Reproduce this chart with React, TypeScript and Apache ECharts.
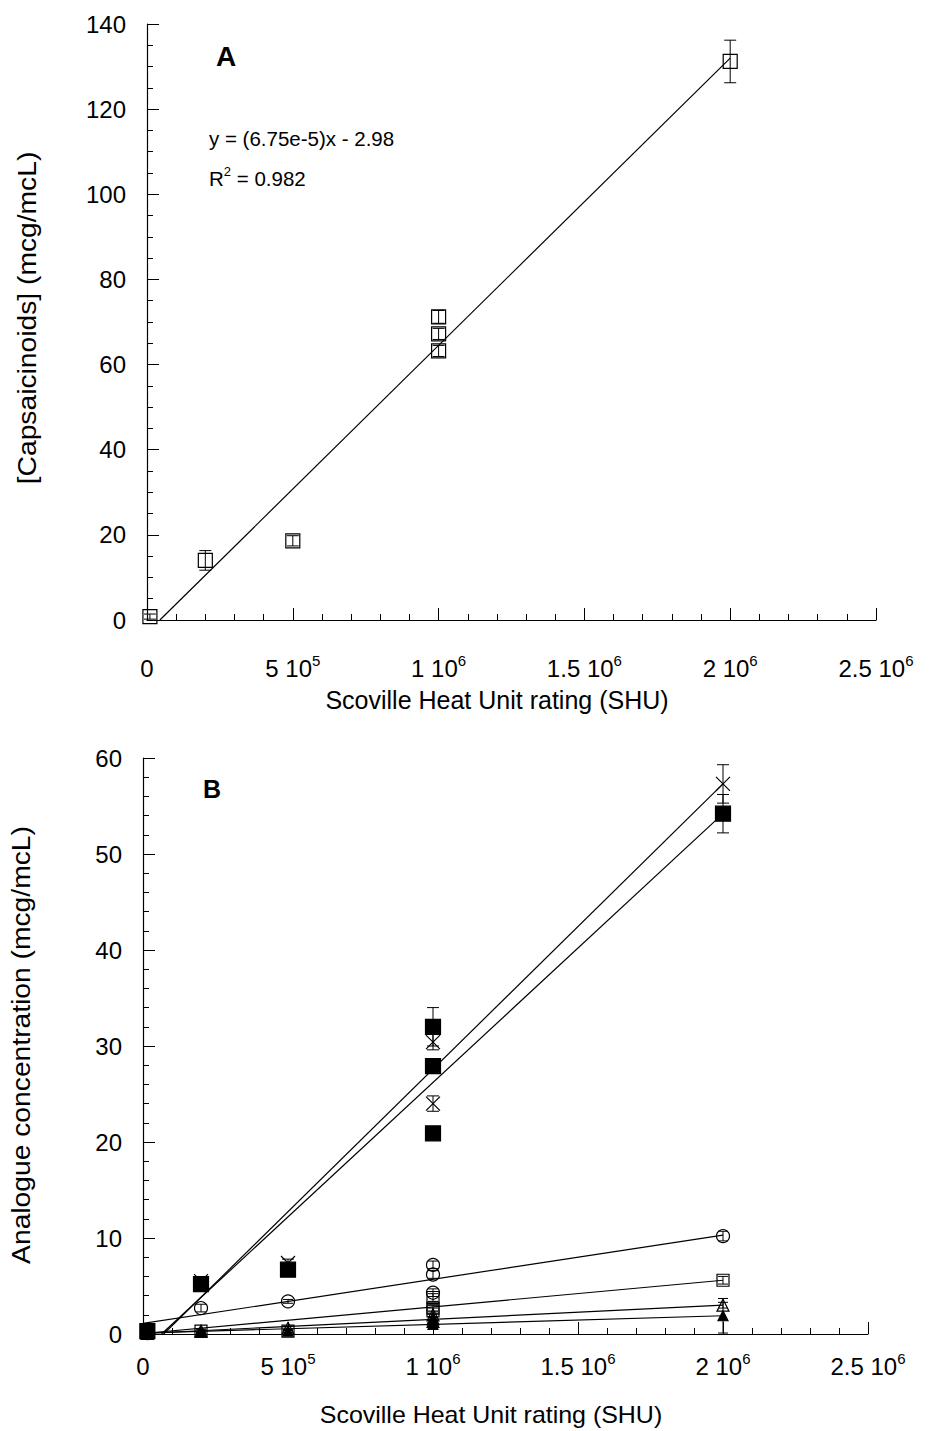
import React, { useEffect, useRef } from "react";
import * as echarts from "echarts";

const FONT = "Liberation Sans, Arial, Helvetica, sans-serif";

// ---------- Panel A ----------
const aShu = [10000, 200000, 500000, 1000000, 1000000, 1000000, 2000000];
const aConc = [0.8, 14.0, 18.6, 63.2, 67.2, 71.2, 131.2];
const aErr = [0.6, 2.3, 1.2, 1.3, 1.3, 1.5, 5.0];
const aFitX = [44148, 2000000];
const aFitY = [0, 132.0];

// ---------- Panel B ----------
const capX = [15000, 200000, 500000, 1000000, 1000000, 1000000, 2000000];
const capY = [0.3, 5.2, 6.7, 32.0, 27.9, 20.9, 54.2];
const capE = [0.3, 0.5, 0.5, 2.0, 0.6, 0.4, 2.0];

const dihX = [15000, 200000, 500000, 1000000, 1000000, 1000000, 2000000];
const dihY = [0.2, 5.5, 7.4, 30.4, 28.0, 24.0, 57.3];
const dihE = [0.2, 0.4, 0.4, 0.8, 0.6, 0.8, 2.0];

const norX = [15000, 200000, 500000, 1000000, 1000000, 1000000, 2000000];
const norY = [0.1, 2.7, 3.4, 7.2, 6.2, 4.3, 10.2];
const norE = [0.1, 0.4, 0.2, 0.4, 0.4, 0.4, 0.5];

const homX = [15000, 200000, 500000, 1000000, 1000000, 1000000, 2000000];
const homY = [0.05, 0.3, 0.3, 3.8, 2.7, 2.4, 5.6];
const homE = [0.05, 0.2, 0.2, 0.4, 0.3, 0.3, 0.4];

const hdhX = [15000, 200000, 500000, 1000000, 1000000, 1000000, 2000000];
const hdhY = [0.05, 0.3, 0.6, 2.0, 1.6, 1.3, 3.0];
const hdhE = [0.05, 0.2, 0.2, 0.3, 0.2, 0.2, 0.3];

const nonX = [15000, 200000, 500000, 1000000, 1000000, 1000000, 2000000];
const nonY = [0.05, 0.2, 0.3, 1.5, 1.2, 1.0, 1.9];
const nonE = [0.05, 0.1, 0.1, 0.2, 0.2, 0.2, 1.8];

const fitCapX = [64000, 2000000];
const fitCapY = [0, 54.2];
const fitDihX = [71000, 2000000];
const fitDihY = [0, 57.3];
const fitNorX = [0, 2000000];
const fitNorY = [1.1, 10.3];
const fitHomX = [0, 2000000];
const fitHomY = [0.05, 5.6];
const fitHdhX = [0, 2000000];
const fitHdhY = [0.05, 3.0];
const fitNonX = [0, 2000000];
const fitNonY = [0.1, 1.9];

const xTickValues = [0, 500000, 1000000, 1500000, 2000000, 2500000];

const zip2 = (xs: number[], ys: number[]) => xs.map((x, i) => [x, ys[i]]);
const zip3 = (xs: number[], ys: number[], es: number[]) => xs.map((x, i) => [x, ys[i], es[i]]);

const X_PATH = "path://M0,0L10,10M10,0L0,10";

function xLabel(v: number) {
  if (v === 0) return "{n|0}";
  const exp = v >= 1e6 ? 6 : 5;
  const m = v / Math.pow(10, exp);
  return `{n|${m} 10}{s|${exp}}`;
}

const richX = {
  n: { fontSize: 24, fontFamily: FONT, color: "#000", lineHeight: 30 },
  s: { fontSize: 15, fontFamily: FONT, color: "#000", lineHeight: 15, verticalAlign: "top" },
};

function errorSeries(name: string, data: number[][], gi: number, cap = 5) {
  return {
    name,
    type: "custom",
    xAxisIndex: gi,
    yAxisIndex: gi,
    encode: { x: 0, y: 1 },
    data,
    z: 3,
    renderItem: (params: any, api: any) => {
      const x = api.value(0);
      const y = api.value(1);
      const e = api.value(2);
      const t = api.coord([x, y + e]);
      const b = api.coord([x, y - e]);
      const st = { stroke: "#000", lineWidth: 1 };
      return {
        type: "group",
        children: [
          { type: "line", shape: { x1: t[0], y1: t[1], x2: b[0], y2: b[1] }, style: st },
          { type: "line", shape: { x1: t[0] - cap, y1: t[1], x2: t[0] + cap, y2: t[1] }, style: st },
          { type: "line", shape: { x1: b[0] - cap, y1: b[1], x2: b[0] + cap, y2: b[1] }, style: st },
        ],
      };
    },
  };
}

function fitSeries(name: string, xs: number[], ys: number[], gi: number) {
  return {
    name,
    type: "line",
    xAxisIndex: gi,
    yAxisIndex: gi,
    data: zip2(xs, ys),
    symbol: "none",
    lineStyle: { color: "#000", width: 1.2 },
    z: 2,
  };
}

function scatterSeries(name: string, xs: number[], ys: number[], gi: number, symbol: string, size: number, filled: boolean) {
  return {
    name,
    type: "scatter",
    xAxisIndex: gi,
    yAxisIndex: gi,
    data: zip2(xs, ys),
    symbol,
    symbolSize: size,
    itemStyle: {
      color: filled ? "#000" : "rgba(0,0,0,0)",
      borderColor: "#000",
      borderWidth: 1.2,
      opacity: 1,
    },
    z: 4,
  };
}

function xAxis(gi: number, margin: number) {
  return {
    type: "value",
    gridIndex: gi,
    min: 0,
    max: 2500000,
    interval: 500000,
    axisLine: { show: true, lineStyle: { color: "#000", width: 1.2 } },
    axisTick: { show: true, inside: true, length: 12, lineStyle: { color: "#000" } },
    minorTick: { show: true, splitNumber: 5, length: 6, lineStyle: { color: "#000" } },
    splitLine: { show: false },
    axisLabel: {
      margin,
      formatter: xLabel,
      rich: richX,
      customValues: xTickValues,
    },
  };
}

function yAxis(gi: number, max: number, interval: number, minorSplit: number) {
  return {
    type: "value",
    gridIndex: gi,
    min: 0,
    max,
    interval,
    axisLine: { show: true, lineStyle: { color: "#000", width: 1.2 } },
    axisTick: { show: true, inside: true, length: 12, lineStyle: { color: "#000" } },
    minorTick: { show: true, splitNumber: minorSplit, length: 6, lineStyle: { color: "#000" } },
    splitLine: { show: false },
    axisLabel: { margin: 21, fontSize: 24, fontFamily: FONT, color: "#000" },
  };
}

export default function App() {
  const ref = useRef<HTMLDivElement>(null);
  useEffect(() => {
    if (!ref.current) return;
    const chart = echarts.init(ref.current, null, { renderer: "svg" });
    const txt = (text: string, x: number, y: number, size: number, extra: any = {}) => ({
      type: "text",
      x,
      y,
      scaleX: extra.scaleX || 1,
      scaleY: extra.scaleY || 1,
      rotation: extra.rotation || 0,
      style: {
        text,
        fontSize: size,
        fontFamily: FONT,
        fill: "#000",
        textAlign: "center",
        textVerticalAlign: "middle",
        ...(extra.style || {}),
      },
    });
    const option: any = {
      animation: false,
      backgroundColor: "#fff",
      grid: [
        { left: 147, top: 24, width: 729, height: 596 },
        { left: 143, top: 758, width: 725, height: 576 },
      ],
      xAxis: [xAxis(0, 33), xAxis(1, 17)],
      yAxis: [yAxis(0, 140, 20, 4), yAxis(1, 60, 10, 5)],
      graphic: [
        txt("A", 226, 56, 28, { style: { fontWeight: "bold" } }),
        txt("B", 212, 789, 25, { style: { fontWeight: "bold" } }),
        txt("y = (6.75e-5)x - 2.98", 209, 138, 20.5, { style: { textAlign: "left" } }),
        {
          type: "text",
          x: 209,
          y: 178,
          style: {
            text: "{r|R}{s|2}{r| = 0.982}",
            fontFamily: FONT,
            fill: "#000",
            textAlign: "left",
            textVerticalAlign: "middle",
            rich: {
              r: { fontSize: 20.5, fontFamily: FONT, fill: "#000", lineHeight: 26 },
              s: { fontSize: 13, fontFamily: FONT, fill: "#000", lineHeight: 13, verticalAlign: "top" },
            },
          },
        },
        txt("[Capsaicinoids] (mcg/mcL)", 28, 318, 25, { rotation: Math.PI / 2, scaleX: 1.13 }),
        txt("Scoville Heat Unit rating (SHU)", 497, 700, 25),
        txt("Analogue concentration (mcg/mcL)", 22, 1045, 25, { rotation: Math.PI / 2, scaleX: 1.13 }),
        txt("Scoville Heat Unit rating (SHU)", 491, 1415, 24, { scaleX: 1.04 }),
      ],
      series: [
        // Panel A
        fitSeries("fitA", aFitX, aFitY, 0),
        errorSeries("errA", zip3(aShu, aConc, aErr), 0, 6),
        scatterSeries("capsaicinoids", aShu, aConc, 0, "rect", 14, false),
        // Panel B
        fitSeries("fitCap", fitCapX, fitCapY, 1),
        fitSeries("fitDih", fitDihX, fitDihY, 1),
        fitSeries("fitNor", fitNorX, fitNorY, 1),
        fitSeries("fitHom", fitHomX, fitHomY, 1),
        fitSeries("fitHdh", fitHdhX, fitHdhY, 1),
        fitSeries("fitNon", fitNonX, fitNonY, 1),
        errorSeries("errCap", zip3(capX, capY, capE), 1, 6),
        errorSeries("errDih", zip3(dihX, dihY, dihE), 1, 6),
        errorSeries("errNor", zip3(norX, norY, norE), 1, 5),
        errorSeries("errHom", zip3(homX, homY, homE), 1, 5),
        errorSeries("errHdh", zip3(hdhX, hdhY, hdhE), 1, 5),
        errorSeries("errNon", zip3(nonX, nonY, nonE), 1, 5),
        scatterSeries("nonivamide", nonX, nonY, 1, "triangle", 10, true),
        scatterSeries("homodihydrocapsaicin", hdhX, hdhY, 1, "triangle", 12, false),
        scatterSeries("homocapsaicin", homX, homY, 1, "rect", 12, false),
        scatterSeries("nordihydrocapsaicin", norX, norY, 1, "circle", 13, false),
        scatterSeries("dihydrocapsaicin", dihX, dihY, 1, X_PATH, 14, false),
        scatterSeries("capsaicin", capX, capY, 1, "rect", 15, true),
      ],
    };
    chart.setOption(option);
    return () => chart.dispose();
  }, []);
  return (
    <div
      ref={ref}
      style={{ position: "absolute", left: 0, top: 0, width: 929, height: 1431, background: "#fff" }}
    />
  );
}
